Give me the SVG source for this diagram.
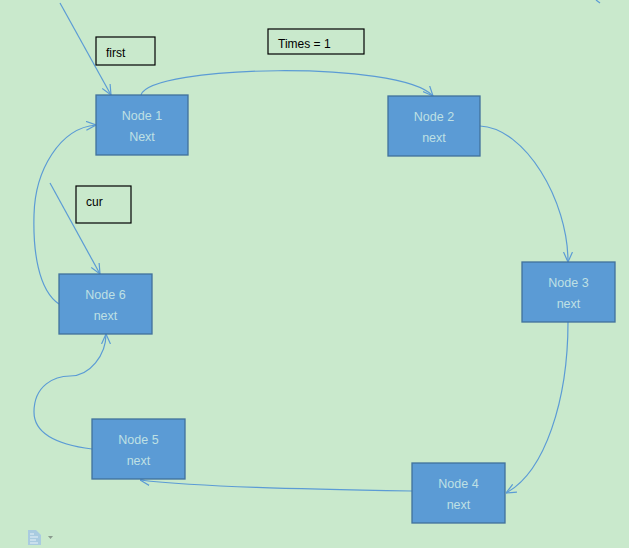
<svg xmlns="http://www.w3.org/2000/svg" width="629" height="548" viewBox="0 0 629 548">
<defs>
<style>
.node rect{fill:#5b9bd5;stroke:#41719c;stroke-width:1.3}
.node text{font-family:"Liberation Sans",Arial,sans-serif;font-size:12.5px;fill:#bfe0e4;text-anchor:middle}
.label rect{fill:none;stroke:#000;stroke-width:1.2}
.label text{font-family:"Liberation Sans",Arial,sans-serif;font-size:12px;fill:#000}
.conn path{fill:none;stroke:#5b9bd5;stroke-width:1.2;marker-end:url(#arr)}
</style>
<marker id="arr" viewBox="0 0 10 10" refX="10" refY="5" markerWidth="10" markerHeight="10" markerUnits="userSpaceOnUse" orient="auto">
<path d="M0,0.5 L10,5 L0,9.5" fill="none" stroke="#5b9bd5" stroke-width="1.2"/>
</marker>
</defs>
<rect width="629" height="548" fill="#c9e9cc"/>
<g id="connectors" class="conn">
<path d="M60,3 L111,95"/>
<path d="M50,183 L100,274"/>
<path d="M141,95 C150,65 400,60 433,96"/>
<path d="M480,126 C525,128 568,200 568,262"/>
<path d="M568,322 C568,400 545,472 506,493"/>
<path d="M412,491 C300,489 200,487 140,480"/>
<path d="M92,449 C60,445 34,435 34,412 C34,385 55,376 70,376 C90,376 106,355 106,334"/>
<path d="M59,304 C38,290 33,250 34,215 C35,170 60,128 96,125"/>
</g>
<g id="node1" class="node"><rect x="96" y="95" width="92" height="60"/><text x="142" y="120">Node 1</text><text x="142" y="141">Next</text></g>
<g id="node2" class="node"><rect x="388" y="96" width="92" height="60"/><text x="434" y="121">Node 2</text><text x="434" y="142">next</text></g>
<g id="node3" class="node"><rect x="522" y="262" width="93" height="60"/><text x="568.5" y="287">Node 3</text><text x="568.5" y="308">next</text></g>
<g id="node4" class="node"><rect x="412" y="463" width="93" height="60"/><text x="458.5" y="488">Node 4</text><text x="458.5" y="509">next</text></g>
<g id="node5" class="node"><rect x="92" y="419" width="93" height="60"/><text x="138.5" y="444">Node 5</text><text x="138.5" y="465">next</text></g>
<g id="node6" class="node"><rect x="59" y="274" width="93" height="60"/><text x="105.5" y="299">Node 6</text><text x="105.5" y="320">next</text></g>
<g id="label-first" class="label"><rect x="96" y="37" width="59" height="28"/><text x="106" y="57">first</text></g>
<g id="label-times" class="label"><rect x="268" y="29" width="96" height="25"/><text x="278" y="48">Times = 1</text></g>
<g id="label-cur" class="label"><rect x="76" y="186" width="55" height="37"/><text x="86" y="206">cur</text></g>
<path d="M596,0 L600,3" stroke="#5b9bd5" stroke-width="1.2" fill="none"/>
<g id="icon">
<path d="M28,530 L36,530 L41,535 L41,545 L28,545 Z" fill="#a9cbe0"/>
<path d="M30,534 H34 M30,537 H38 M30,540 H36 M30,543 H38" stroke="#e8f2f8" stroke-width="1"/>
<path d="M48,536 L53,536 L50.5,539 Z" fill="#8a9a8e"/>
</g>
</svg>
